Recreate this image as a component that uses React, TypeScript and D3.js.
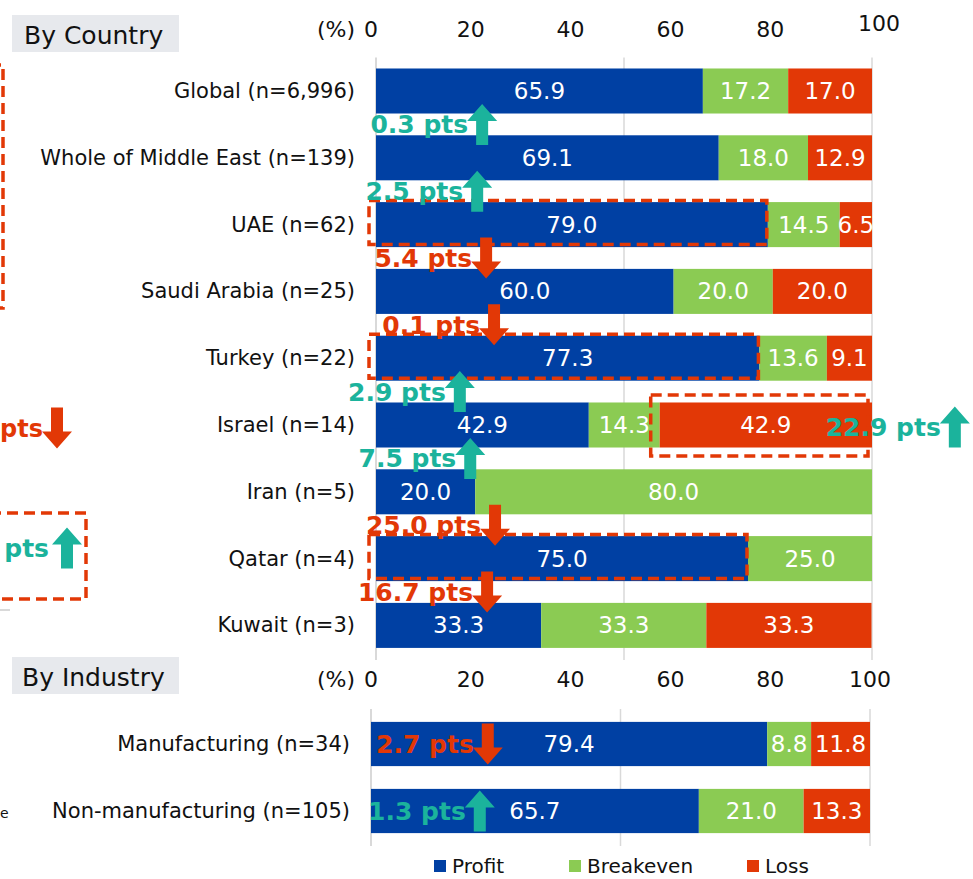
import React from "react";
import * as d3 from "d3";

// by country
const countries = [
  "Global (n=6,996)",
  "Whole of Middle East (n=139)",
  "UAE (n=62)",
  "Saudi Arabia (n=25)",
  "Turkey (n=22)",
  "Israel (n=14)",
  "Iran (n=5)",
  "Qatar (n=4)",
  "Kuwait (n=3)",
];
const countryProfit = [65.9, 69.1, 79.0, 60.0, 77.3, 42.9, 20.0, 75.0, 33.3];
const countryBreakeven = [17.2, 18.0, 14.5, 20.0, 13.6, 14.3, 80.0, 25.0, 33.3];
const countryLoss = [17.0, 12.9, 6.5, 20.0, 9.1, 42.9, 0, 0, 33.3];

// change vs previous survey (pts), shown above each row
const countryChange = [null, "0.3", "2.5", "5.4", "0.1", "2.9", "7.5", "25.0", "16.7"];
const countryChangeDir = [null, "up", "up", "down", "down", "up", "up", "down", "down"];
const countryChangeAt = [null, 21.4, 20.4, 22.2, 23.8, 16.9, 19.0, 24.0, 22.4];

// by industry
const industries = ["Manufacturing (n=34)", "Non-manufacturing (n=105)"];
const industryProfit = [79.4, 65.7];
const industryBreakeven = [8.8, 21.0];
const industryLoss = [11.8, 13.3];
const industryChange = ["2.7", "1.3"];
const industryChangeDir = ["down", "up"];
const industryChangeAt = [23.4, 21.8];

const seriesNames = ["Profit", "Breakeven", "Loss"];
const ticks = [0, 20, 40, 60, 80, 100];
const gridTicks = [0, 50, 100];

const COLORS = ["#0040a3", "#8bcb53", "#e23806"];
const TEAL = "#1bb39c";
const RED = "#e23806";
const GRID = "#d9d9d9";
const FONT = "'DejaVu Sans', Verdana, sans-serif";
const DASH = "11,6";

const W = 973;
const H = 879;

const arrowPath = (cx: number, cy: number, dir: string) => {
  // block arrow, 41px long
  const half = 20.5, head = 17, hw = 15, sw = 6;
  const s = dir === "up" ? -1 : 1;
  const tip = cy + s * half;
  const base = tip - s * head;
  const tail = cy - s * half;
  return `M${cx},${tip}L${cx + hw},${base}L${cx + sw},${base}L${cx + sw},${tail}L${cx - sw},${tail}L${cx - sw},${base}L${cx - hw},${base}Z`;
};

const Change = ({ x, y, label, dir }: { x: number; y: number; label: string; dir: string }) => {
  const c = dir === "up" ? TEAL : RED;
  return (
    <g>
      <text x={x - 14} y={y + 9} textAnchor="end" fontWeight="bold" fontSize={25} fill={c}>
        {label} pts
      </text>
      <path d={arrowPath(x, y, dir)} fill={c} />
    </g>
  );
};

const Bars = ({ names, series, x, y }: any) => {
  const stack = names.map((_: string, i: number) => {
    let acc = 0;
    return series.map((s: number[]) => {
      const v = s[i];
      const seg = { x0: acc, x1: acc + v, v };
      acc += v;
      return seg;
    });
  });
  return (
    <g>
      {names.map((n: string, i: number) => (
        <g key={n}>
          {stack[i].map((seg: any, j: number) =>
            seg.v > 0 ? (
              <rect
                key={j}
                x={x(seg.x0)}
                y={y(n)}
                width={Math.min(x(seg.x1), x(100)) - x(seg.x0)}
                height={y.bandwidth()}
                fill={COLORS[j]}
              />
            ) : null
          )}
          {stack[i].map((seg: any, j: number) =>
            seg.v > 0 ? (
              <text
                key={"t" + j}
                x={(x(seg.x0) + Math.min(x(seg.x1), x(100))) / 2}
                y={y(n)! + y.bandwidth() / 2 + 8}
                textAnchor="middle"
                fontSize={23}
                fill="#fff"
              >
                {seg.v.toFixed(1)}
              </text>
            ) : null
          )}
          <text x={x(0) - 21} y={y(n)! + y.bandwidth() / 2 + 7} textAnchor="end" fontSize={21} fill="#111">
            {n}
          </text>
        </g>
      ))}
    </g>
  );
};

export default function App() {
  // top panel
  const xTop = d3.scaleLinear().domain([0, 100]).range([376, 872]);
  const yTop = d3.scaleBand().domain(countries).range([57.6, 658.8]).paddingInner(0.326).paddingOuter(0.163);
  // bottom panel (its tick labels are also used for the top axis)
  const xBot = d3.scaleLinear().domain([0, 100]).range([371, 870]);
  const yBot = d3.scaleBand().domain(industries).range([710.5, 844.5]).paddingInner(0.34).paddingOuter(0.17);

  const mid = (i: number) => (yTop(countries[i - 1])! + yTop(countries[i])! + yTop.bandwidth()) / 2;
  const cy = (n: string, y: any) => y(n) + y.bandwidth() / 2;

  const highlights = [
    { row: 2, from: 0, to: countryProfit[2] },
    { row: 4, from: 0, to: countryProfit[4] },
    { row: 7, from: 0, to: countryProfit[7] },
  ];
  const israel = 5;
  const israelLoss0 = countryProfit[israel] + countryBreakeven[israel];

  return (
    <svg width={W} height={H} style={{ position: "absolute", left: 0, top: 0 }} fontFamily={FONT}>
      <rect width={W} height={H} fill="#fff" />

      {/* neighbour panel, mostly off the left edge */}
      <path d="M-10,65H3V308H-10" fill="none" stroke={RED} strokeWidth={3.5} strokeDasharray={DASH} />
      <text x={0} y={437} fontWeight="bold" fontSize={24} fill={RED}>pts</text>
      <path d={arrowPath(57, 428, "down")} fill={RED} />
      <path d="M-10,513H86V599H-10" fill="none" stroke={RED} strokeWidth={3.5} strokeDasharray={DASH} />
      <text x={49} y={557} textAnchor="end" fontWeight="bold" fontSize={25} fill={TEAL}>pts</text>
      <path d={arrowPath(67, 548, "up")} fill={TEAL} />
      <line x1={0} x2={10} y1={610} y2={610} stroke={GRID} strokeWidth={2} />
      <text x={0} y={818} fontSize={14} fill="#111">e</text>

      {/* By Country */}
      <rect x={12} y={15} width={167} height={37} fill="#e7e9ed" />
      <text x={24} y={44} fontSize={25} fill="#111">By Country</text>
      <text x={355} y={37} textAnchor="end" fontSize={22} fill="#111">(%)</text>
      {ticks.map((t) => (
        <text
          key={t}
          x={xBot(t) + (t === 100 ? 9 : 0)}
          y={t === 100 ? 31 : 37}
          textAnchor="middle"
          fontSize={22}
          fill="#111"
        >
          {t}
        </text>
      ))}
      {gridTicks.map((t) => (
        <line key={t} x1={xTop(t)} x2={xTop(t)} y1={57.6} y2={660} stroke={GRID} strokeWidth={t === 0 ? 2 : 1.5} />
      ))}
      <Bars names={countries} series={[countryProfit, countryBreakeven, countryLoss]} x={xTop} y={yTop} />

      {highlights.map((h) => (
        <rect
          key={h.row}
          x={xTop(h.from) - 7}
          y={yTop(countries[h.row])! - 1.5}
          width={xTop(h.to) - xTop(h.from) + 6}
          height={yTop.bandwidth() - 1}
          fill="none"
          stroke={RED}
          strokeWidth={3.5}
          strokeDasharray={DASH}
        />
      ))}
      <rect
        x={xTop(israelLoss0) - 9}
        y={yTop(countries[israel])! - 7.5}
        width={xTop(100) - xTop(israelLoss0) + 5}
        height={yTop.bandwidth() + 16}
        fill="none"
        stroke={RED}
        strokeWidth={3.5}
        strokeDasharray={DASH}
      />

      {countryChange.map((c, i) =>
        c ? <Change key={i} x={xTop(countryChangeAt[i]!)} y={mid(i)} label={c} dir={countryChangeDir[i]!} /> : null
      )}
      <Change x={xTop(116.7)} y={cy(countries[israel], yTop) + 2} label="22.9" dir="up" />

      {/* By Industry */}
      <rect x={12} y={657} width={167} height={37} fill="#e7e9ed" />
      <text x={22} y={686} fontSize={25} fill="#111">By Industry</text>
      <text x={355} y={687} textAnchor="end" fontSize={22} fill="#111">(%)</text>
      {ticks.map((t) => (
        <text key={t} x={xBot(t)} y={687} textAnchor="middle" fontSize={22} fill="#111">
          {t}
        </text>
      ))}
      {gridTicks.map((t) => (
        <line key={t} x1={xBot(t)} x2={xBot(t)} y1={709} y2={846} stroke={GRID} strokeWidth={t === 0 ? 2 : 1.5} />
      ))}
      <Bars names={industries} series={[industryProfit, industryBreakeven, industryLoss]} x={xBot} y={yBot} />
      {industries.map((n, i) => (
        <Change key={n} x={xBot(industryChangeAt[i])} y={cy(n, yBot)} label={industryChange[i]} dir={industryChangeDir[i]} />
      ))}

      {/* legend */}
      {seriesNames.map((s, i) => {
        const lx = [434, 569, 747][i];
        return (
          <g key={s}>
            <rect x={lx} y={860} width={12} height={12} fill={COLORS[i]} />
            <text x={lx + 18} y={873} fontSize={20} fill="#111">{s}</text>
          </g>
        );
      })}
    </svg>
  );
}
